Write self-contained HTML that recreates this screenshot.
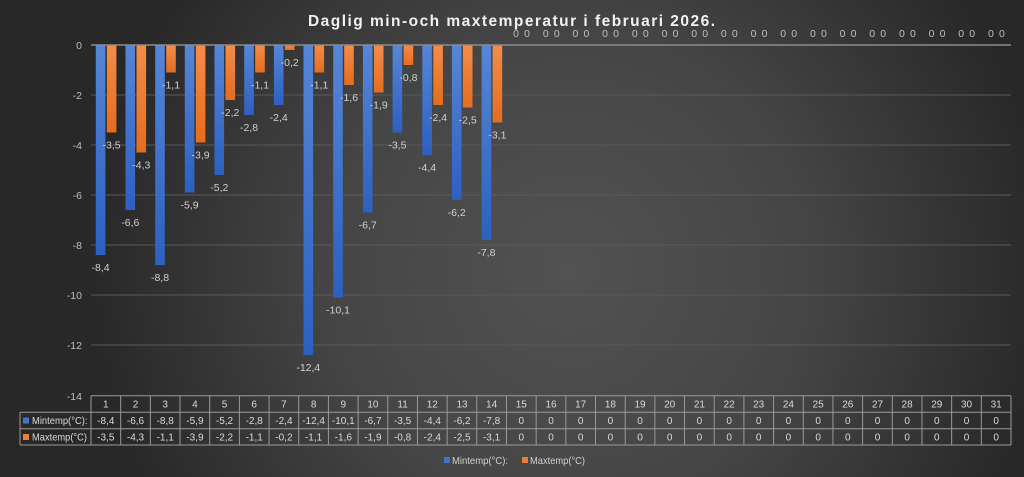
<!DOCTYPE html>
<html><head><meta charset="utf-8"><style>
html,body{margin:0;padding:0;background:#2a2a2a;}
svg{display:block;}
</style></head><body>
<svg width="1024" height="477" viewBox="0 0 1024 477" xmlns="http://www.w3.org/2000/svg" font-family="Liberation Sans, sans-serif">
<defs>
<radialGradient id="bg" gradientUnits="userSpaceOnUse" cx="570" cy="270" r="480">
<stop offset="0" stop-color="#525252"/>
<stop offset="0.5" stop-color="#454545"/>
<stop offset="1" stop-color="#282828"/>
</radialGradient>
<linearGradient id="gb" x1="0" y1="0" x2="0" y2="1">
<stop offset="0" stop-color="#5586d7"/>
<stop offset="1" stop-color="#2d60c1"/>
</linearGradient>
<linearGradient id="go" x1="0" y1="0" x2="0" y2="1">
<stop offset="0" stop-color="#f38c4a"/>
<stop offset="1" stop-color="#e56d1d"/>
</linearGradient>
</defs>
<rect x="0" y="0" width="1024" height="477" fill="url(#bg)"/>

<!-- title -->
<text x="308" y="26" font-size="15.5" font-weight="bold" fill="#f2f2f2" textLength="407" lengthAdjust="spacing">Daglig min-och maxtemperatur i februari 2026.</text>

<!-- gridlines -->
<g stroke="#5a5a5a" stroke-width="1">
<line x1="91" y1="95" x2="1011" y2="95"/>
<line x1="91" y1="145" x2="1011" y2="145"/>
<line x1="91" y1="195" x2="1011" y2="195"/>
<line x1="91" y1="245" x2="1011" y2="245"/>
<line x1="91" y1="295" x2="1011" y2="295"/>
<line x1="91" y1="345" x2="1011" y2="345"/>
</g>

<!-- y labels -->
<g font-size="10.5" fill="#bfbfbf" text-anchor="end">
<text x="82" y="49">0</text>
<text x="82" y="99">-2</text>
<text x="82" y="149">-4</text>
<text x="82" y="199">-6</text>
<text x="82" y="249">-8</text>
<text x="82" y="299">-10</text>
<text x="82" y="349">-12</text>
<text x="82" y="400">-14</text>
</g>

<!-- blue bars -->
<g fill="url(#gb)">
<rect x="95.8" y="45" width="9.6" height="210"/>
<rect x="125.5" y="45" width="9.6" height="165"/>
<rect x="155.2" y="45" width="9.6" height="220"/>
<rect x="184.8" y="45" width="9.6" height="147.5"/>
<rect x="214.5" y="45" width="9.6" height="130"/>
<rect x="244.2" y="45" width="9.6" height="70"/>
<rect x="273.9" y="45" width="9.6" height="60"/>
<rect x="303.5" y="45" width="9.6" height="310"/>
<rect x="333.2" y="45" width="9.6" height="252.5"/>
<rect x="362.9" y="45" width="9.6" height="167.5"/>
<rect x="392.6" y="45" width="9.6" height="87.5"/>
<rect x="422.3" y="45" width="9.6" height="110"/>
<rect x="451.9" y="45" width="9.6" height="155"/>
<rect x="481.6" y="45" width="9.6" height="195"/>
</g>
<!-- orange bars -->
<g fill="url(#go)">
<rect x="106.8" y="45" width="9.6" height="87.5"/>
<rect x="136.5" y="45" width="9.6" height="107.5"/>
<rect x="166.2" y="45" width="9.6" height="27.5"/>
<rect x="195.8" y="45" width="9.6" height="97.5"/>
<rect x="225.5" y="45" width="9.6" height="55"/>
<rect x="255.2" y="45" width="9.6" height="27.5"/>
<rect x="284.9" y="45" width="9.6" height="5"/>
<rect x="314.5" y="45" width="9.6" height="27.5"/>
<rect x="344.2" y="45" width="9.6" height="40"/>
<rect x="373.9" y="45" width="9.6" height="47.5"/>
<rect x="403.6" y="45" width="9.6" height="20"/>
<rect x="433.3" y="45" width="9.6" height="60"/>
<rect x="462.9" y="45" width="9.6" height="62.5"/>
<rect x="492.6" y="45" width="9.6" height="77.5"/>
</g>

<!-- axis line -->
<line x1="91" y1="45" x2="1011" y2="45" stroke="#8c8c8c" stroke-width="1.5"/>

<!-- data labels -->
<g font-size="10.5" fill="#d0d0d0" text-anchor="middle">
<text x="100.6" y="271">-8,4</text>
<text x="130.3" y="226">-6,6</text>
<text x="160.0" y="281">-8,8</text>
<text x="189.6" y="208.5">-5,9</text>
<text x="219.3" y="191">-5,2</text>
<text x="249.0" y="131">-2,8</text>
<text x="278.7" y="121">-2,4</text>
<text x="308.3" y="371">-12,4</text>
<text x="338.0" y="313.5">-10,1</text>
<text x="367.7" y="228.5">-6,7</text>
<text x="397.4" y="148.5">-3,5</text>
<text x="427.1" y="171">-4,4</text>
<text x="456.7" y="216">-6,2</text>
<text x="486.4" y="256">-7,8</text>

<text x="111.6" y="148.5">-3,5</text>
<text x="141.3" y="168.5">-4,3</text>
<text x="171.0" y="88.5">-1,1</text>
<text x="200.6" y="158.5">-3,9</text>
<text x="230.3" y="116">-2,2</text>
<text x="260.0" y="88.5">-1,1</text>
<text x="289.7" y="66">-0,2</text>
<text x="319.3" y="88.5">-1,1</text>
<text x="349.0" y="101">-1,6</text>
<text x="378.7" y="108.5">-1,9</text>
<text x="408.4" y="81">-0,8</text>
<text x="438.1" y="121">-2,4</text>
<text x="467.7" y="123.5">-2,5</text>
<text x="497.4" y="138.5">-3,1</text>
</g>

<!-- zero labels -->
<g font-size="10.5" fill="#bfbfbf" text-anchor="middle">
<text x="516.1" y="37">0</text><text x="527.1" y="37">0</text>
<text x="545.8" y="37">0</text><text x="556.8" y="37">0</text>
<text x="575.4" y="37">0</text><text x="586.4" y="37">0</text>
<text x="605.1" y="37">0</text><text x="616.1" y="37">0</text>
<text x="634.8" y="37">0</text><text x="645.8" y="37">0</text>
<text x="664.5" y="37">0</text><text x="675.5" y="37">0</text>
<text x="694.2" y="37">0</text><text x="705.2" y="37">0</text>
<text x="723.8" y="37">0</text><text x="734.8" y="37">0</text>
<text x="753.5" y="37">0</text><text x="764.5" y="37">0</text>
<text x="783.2" y="37">0</text><text x="794.2" y="37">0</text>
<text x="812.9" y="37">0</text><text x="823.9" y="37">0</text>
<text x="842.5" y="37">0</text><text x="853.5" y="37">0</text>
<text x="872.2" y="37">0</text><text x="883.2" y="37">0</text>
<text x="901.9" y="37">0</text><text x="912.9" y="37">0</text>
<text x="931.6" y="37">0</text><text x="942.6" y="37">0</text>
<text x="961.2" y="37">0</text><text x="972.2" y="37">0</text>
<text x="990.9" y="37">0</text><text x="1001.9" y="37">0</text>
</g>

<!-- data table -->
<g stroke="#9a9a9a" stroke-width="1" fill="none">
<line x1="91" y1="395.7" x2="1011" y2="395.7"/>
<line x1="20" y1="412.3" x2="1011" y2="412.3"/>
<line x1="20" y1="428.7" x2="1011" y2="428.7"/>
<line x1="20" y1="445" x2="1011" y2="445"/>
<line x1="20" y1="412.3" x2="20" y2="445"/>
<line x1="91" y1="395.7" x2="91" y2="445"/>
<line x1="120.68" y1="395.7" x2="120.68" y2="445"/>
<line x1="150.35" y1="395.7" x2="150.35" y2="445"/>
<line x1="180.03" y1="395.7" x2="180.03" y2="445"/>
<line x1="209.71" y1="395.7" x2="209.71" y2="445"/>
<line x1="239.39" y1="395.7" x2="239.39" y2="445"/>
<line x1="269.06" y1="395.7" x2="269.06" y2="445"/>
<line x1="298.74" y1="395.7" x2="298.74" y2="445"/>
<line x1="328.42" y1="395.7" x2="328.42" y2="445"/>
<line x1="358.10" y1="395.7" x2="358.10" y2="445"/>
<line x1="387.77" y1="395.7" x2="387.77" y2="445"/>
<line x1="417.45" y1="395.7" x2="417.45" y2="445"/>
<line x1="447.13" y1="395.7" x2="447.13" y2="445"/>
<line x1="476.81" y1="395.7" x2="476.81" y2="445"/>
<line x1="506.48" y1="395.7" x2="506.48" y2="445"/>
<line x1="536.16" y1="395.7" x2="536.16" y2="445"/>
<line x1="565.84" y1="395.7" x2="565.84" y2="445"/>
<line x1="595.52" y1="395.7" x2="595.52" y2="445"/>
<line x1="625.19" y1="395.7" x2="625.19" y2="445"/>
<line x1="654.87" y1="395.7" x2="654.87" y2="445"/>
<line x1="684.55" y1="395.7" x2="684.55" y2="445"/>
<line x1="714.23" y1="395.7" x2="714.23" y2="445"/>
<line x1="743.90" y1="395.7" x2="743.90" y2="445"/>
<line x1="773.58" y1="395.7" x2="773.58" y2="445"/>
<line x1="803.26" y1="395.7" x2="803.26" y2="445"/>
<line x1="832.94" y1="395.7" x2="832.94" y2="445"/>
<line x1="862.61" y1="395.7" x2="862.61" y2="445"/>
<line x1="892.29" y1="395.7" x2="892.29" y2="445"/>
<line x1="921.97" y1="395.7" x2="921.97" y2="445"/>
<line x1="951.65" y1="395.7" x2="951.65" y2="445"/>
<line x1="981.32" y1="395.7" x2="981.32" y2="445"/>
<line x1="1011" y1="395.7" x2="1011" y2="445"/>
</g>

<rect x="23" y="417.5" width="6" height="6" fill="#4472c4"/>
<rect x="23" y="434" width="6" height="6" fill="#ed7d31"/>
<g font-size="10.5" fill="#d9d9d9">
<text x="32" y="424" textLength="55.5" lengthAdjust="spacingAndGlyphs">Mintemp(°C):</text>
<text x="32" y="440.5" textLength="55" lengthAdjust="spacingAndGlyphs">Maxtemp(°C)</text>
</g>

<g font-size="10" fill="#d9d9d9" text-anchor="middle">
<!-- header -->
<text x="105.8" y="407.5">1</text><text x="135.5" y="407.5">2</text><text x="165.2" y="407.5">3</text><text x="194.9" y="407.5">4</text><text x="224.5" y="407.5">5</text><text x="254.2" y="407.5">6</text><text x="283.9" y="407.5">7</text><text x="313.6" y="407.5">8</text><text x="343.3" y="407.5">9</text><text x="372.9" y="407.5">10</text><text x="402.6" y="407.5">11</text><text x="432.3" y="407.5">12</text><text x="462.0" y="407.5">13</text><text x="491.6" y="407.5">14</text><text x="521.3" y="407.5">15</text><text x="551.0" y="407.5">16</text><text x="580.7" y="407.5">17</text><text x="610.4" y="407.5">18</text><text x="640.0" y="407.5">19</text><text x="669.7" y="407.5">20</text><text x="699.4" y="407.5">21</text><text x="729.1" y="407.5">22</text><text x="758.7" y="407.5">23</text><text x="788.4" y="407.5">24</text><text x="818.1" y="407.5">25</text><text x="847.8" y="407.5">26</text><text x="877.5" y="407.5">27</text><text x="907.1" y="407.5">28</text><text x="936.8" y="407.5">29</text><text x="966.5" y="407.5">30</text><text x="996.2" y="407.5">31</text>
<!-- min row -->
<text x="105.8" y="424">-8,4</text><text x="135.5" y="424">-6,6</text><text x="165.2" y="424">-8,8</text><text x="194.9" y="424">-5,9</text><text x="224.5" y="424">-5,2</text><text x="254.2" y="424">-2,8</text><text x="283.9" y="424">-2,4</text><text x="313.6" y="424">-12,4</text><text x="343.3" y="424">-10,1</text><text x="372.9" y="424">-6,7</text><text x="402.6" y="424">-3,5</text><text x="432.3" y="424">-4,4</text><text x="462.0" y="424">-6,2</text><text x="491.6" y="424">-7,8</text><text x="521.3" y="424">0</text><text x="551.0" y="424">0</text><text x="580.7" y="424">0</text><text x="610.4" y="424">0</text><text x="640.0" y="424">0</text><text x="669.7" y="424">0</text><text x="699.4" y="424">0</text><text x="729.1" y="424">0</text><text x="758.7" y="424">0</text><text x="788.4" y="424">0</text><text x="818.1" y="424">0</text><text x="847.8" y="424">0</text><text x="877.5" y="424">0</text><text x="907.1" y="424">0</text><text x="936.8" y="424">0</text><text x="966.5" y="424">0</text><text x="996.2" y="424">0</text>
<!-- max row -->
<text x="105.8" y="440.5">-3,5</text><text x="135.5" y="440.5">-4,3</text><text x="165.2" y="440.5">-1,1</text><text x="194.9" y="440.5">-3,9</text><text x="224.5" y="440.5">-2,2</text><text x="254.2" y="440.5">-1,1</text><text x="283.9" y="440.5">-0,2</text><text x="313.6" y="440.5">-1,1</text><text x="343.3" y="440.5">-1,6</text><text x="372.9" y="440.5">-1,9</text><text x="402.6" y="440.5">-0,8</text><text x="432.3" y="440.5">-2,4</text><text x="462.0" y="440.5">-2,5</text><text x="491.6" y="440.5">-3,1</text><text x="521.3" y="440.5">0</text><text x="551.0" y="440.5">0</text><text x="580.7" y="440.5">0</text><text x="610.4" y="440.5">0</text><text x="640.0" y="440.5">0</text><text x="669.7" y="440.5">0</text><text x="699.4" y="440.5">0</text><text x="729.1" y="440.5">0</text><text x="758.7" y="440.5">0</text><text x="788.4" y="440.5">0</text><text x="818.1" y="440.5">0</text><text x="847.8" y="440.5">0</text><text x="877.5" y="440.5">0</text><text x="907.1" y="440.5">0</text><text x="936.8" y="440.5">0</text><text x="966.5" y="440.5">0</text><text x="996.2" y="440.5">0</text>
</g>

<!-- legend -->
<rect x="444" y="457" width="6" height="6" fill="#4472c4"/>
<rect x="522" y="457" width="6" height="6" fill="#ed7d31"/>
<g font-size="10.5" fill="#d0d0d0">
<text x="452" y="464" textLength="56" lengthAdjust="spacingAndGlyphs">Mintemp(°C):</text>
<text x="530" y="464" textLength="55" lengthAdjust="spacingAndGlyphs">Maxtemp(°C)</text>
</g>
</svg>
</body></html>
